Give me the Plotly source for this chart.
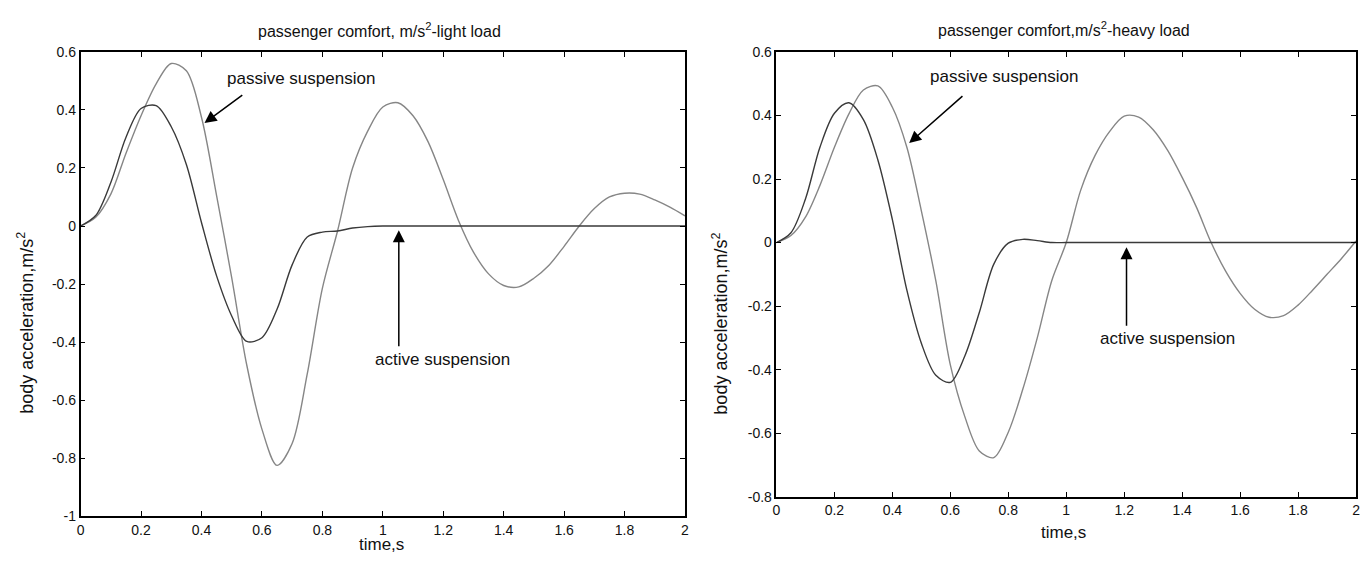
import plotly.graph_objects as go

# ---------------- data ----------------
time_s = [0, 0.05, 0.1, 0.15, 0.2, 0.25, 0.3, 0.35, 0.4, 0.45, 0.5, 0.55, 0.6, 0.65, 0.7, 0.75,
          0.8, 0.85, 0.9, 0.95, 1.0, 1.05, 1.1, 1.15, 1.2, 1.25, 1.3, 1.35, 1.4, 1.45, 1.5,
          1.55, 1.6, 1.65, 1.7, 1.75, 1.8, 1.85, 1.9, 1.95, 2.0]

passive_light = [0, 0.03, 0.11, 0.25, 0.38, 0.49, 0.56, 0.535, 0.375, 0.105, -0.178, -0.48,
                 -0.70, -0.825, -0.75, -0.51, -0.215, -0.018, 0.20, 0.327, 0.41, 0.425, 0.38,
                 0.29, 0.16, 0.02, -0.09, -0.165, -0.205, -0.21, -0.18, -0.135, -0.07, 0.0,
                 0.06, 0.10, 0.113, 0.11, 0.09, 0.065, 0.035]

active_light = [0, 0.036, 0.15, 0.305, 0.405, 0.415, 0.342, 0.212, 0.012, -0.172, -0.31, -0.398,
                -0.385, -0.287, -0.134, -0.038, -0.021, -0.017, -0.007, -0.002, 0,
                0, 0, 0, 0, 0, 0, 0, 0, 0, 0, 0, 0, 0, 0, 0, 0, 0, 0, 0, 0]

passive_heavy = [0, 0.022, 0.08, 0.18, 0.30, 0.405, 0.48, 0.493, 0.426, 0.30, 0.10, -0.121,
                 -0.385, -0.548, -0.656, -0.677, -0.597, -0.462, -0.30, -0.12, 0.0, 0.165,
                 0.275, 0.35, 0.398, 0.395, 0.355, 0.29, 0.205, 0.11, 0.0, -0.09, -0.16, -0.21,
                 -0.235, -0.23, -0.197, -0.15, -0.10, -0.05, 0.005]

active_heavy = [0, 0.031, 0.137, 0.30, 0.407, 0.44, 0.387, 0.26, 0.072, -0.15, -0.317, -0.418,
                -0.44, -0.357, -0.22, -0.068, -0.002, 0.01, 0.006, 0.0, 0,
                0, 0, 0, 0, 0, 0, 0, 0, 0, 0, 0, 0, 0, 0, 0, 0, 0, 0, 0, 0]

x_tick_vals = [0, 0.2, 0.4, 0.6, 0.8, 1.0, 1.2, 1.4, 1.6, 1.8, 2.0]
x_tick_text = ["0", "0.2", "0.4", "0.6", "0.8", "1", "1.2", "1.4", "1.6", "1.8", "2"]
y_left_vals = [0.6, 0.4, 0.2, 0, -0.2, -0.4, -0.6, -0.8, -1.0]
y_left_text = ["0.6", "0.4", "0.2", "0", "-0.2", "-0.4", "-0.6", "-0.8", "-1"]
y_right_vals = [0.6, 0.4, 0.2, 0, -0.2, -0.4, -0.6, -0.8]
y_right_text = ["0.6", "0.4", "0.2", "0", "-0.2", "-0.4", "-0.6", "-0.8"]

# ---------------- figure ----------------
# The page body keeps its default 8px margin, so the figure is 16px smaller than the window.
PAGE_W, PAGE_H, BODY_M = 1372, 570, 8
FW, FH = PAGE_W - 2 * BODY_M, PAGE_H - 2 * BODY_M


def px(x):
    return (x - BODY_M) / FW


def py(y):
    return 1 - (y - BODY_M) / FH


FONT = "Liberation Sans, Arial, sans-serif"
ACTIVE_C = "#3a3a3a"
PASSIVE_C = "#868686"

fig = go.Figure()
line_kw = dict(shape="spline", smoothing=0.9, width=1.4)
fig.add_trace(go.Scatter(x=time_s, y=passive_light, mode="lines", xaxis="x", yaxis="y",
                         line=dict(color=PASSIVE_C, **line_kw), showlegend=False))
fig.add_trace(go.Scatter(x=time_s, y=active_light, mode="lines", xaxis="x", yaxis="y",
                         line=dict(color=ACTIVE_C, **line_kw), showlegend=False))
fig.add_trace(go.Scatter(x=time_s, y=passive_heavy, mode="lines", xaxis="x2", yaxis="y2",
                         line=dict(color=PASSIVE_C, **line_kw), showlegend=False))
fig.add_trace(go.Scatter(x=time_s, y=active_heavy, mode="lines", xaxis="x2", yaxis="y2",
                         line=dict(color=ACTIVE_C, **line_kw), showlegend=False))

axis_common = dict(showline=True, linecolor="black", linewidth=1.5, mirror="allticks",
                   ticks="inside", ticklen=5, tickwidth=1.2, tickcolor="black",
                   showgrid=False, zeroline=False,
                   tickfont=dict(family=FONT, size=14, color="#111"))

fig.update_layout(
    width=FW, height=FH,
    margin=dict(l=0, r=0, t=0, b=0),
    paper_bgcolor="white", plot_bgcolor="white",
    xaxis=dict(domain=[px(77), px(685)], anchor="y", range=[0, 2],
               tickvals=x_tick_vals, ticktext=x_tick_text, **axis_common),
    yaxis=dict(domain=[py(523), py(45)], anchor="x", range=[-1, 0.6],
               tickvals=y_left_vals, ticktext=y_left_text, **axis_common),
    xaxis2=dict(domain=[px(777), px(1360)], anchor="y2", range=[0, 2],
                tickvals=x_tick_vals, ticktext=x_tick_text, **axis_common),
    yaxis2=dict(domain=[py(503), py(45)], anchor="x2", range=[-0.8, 0.6],
                tickvals=y_right_vals, ticktext=y_right_text, **axis_common),
)


def mid(size):
    return dict(xanchor="center", yanchor="middle", showarrow=False,
                font=dict(family=FONT, size=size, color="#111"))


ann = []
# titles
ann.append(dict(text="passenger comfort, m/s<sup>2</sup>-light load", xref="paper", yref="paper",
                x=px(378), y=py(22), **mid(16)))
ann.append(dict(text="passenger comfort,m/s<sup>2</sup>-heavy load", xref="paper", yref="paper",
                x=px(1066), y=py(21), **mid(16)))
# axis titles
ann.append(dict(text="body acceleration,m/s<sup>2</sup>", xref="paper", yref="paper",
                x=px(22), y=py(324), textangle=-90, **mid(18)))
ann.append(dict(text="body acceleration,m/s<sup>2</sup>", xref="paper", yref="paper",
                x=px(721), y=py(325), textangle=-90, **mid(18)))
ann.append(dict(text="time,s", xref="paper", yref="paper",
                x=px(380), y=py(552), **mid(17)))
ann.append(dict(text="time,s", xref="paper", yref="paper",
                x=px(1066), y=py(540), **mid(17)))
# labels inside plots
ann.append(dict(text="passive suspension", xref="x", yref="y", x=0.73, y=0.51, **mid(17)))
ann.append(dict(text="active suspension", xref="x", yref="y", x=1.197, y=-0.459, **mid(17)))
ann.append(dict(text="passive suspension", xref="x2", yref="y2", x=0.785, y=0.522, **mid(17)))
ann.append(dict(text="active suspension", xref="x2", yref="y2", x=1.348, y=-0.303, **mid(17)))
# arrows
arrow_kw = dict(text="", showarrow=True, arrowhead=2, arrowsize=1.6, arrowwidth=1.5,
                arrowcolor="black")
ann.append(dict(xref="x", yref="y", axref="x", ayref="y", x=0.41, y=0.355, ax=0.54, ay=0.455,
                **arrow_kw))
ann.append(dict(xref="x", yref="y", axref="x", ayref="y", x=1.053, y=-0.015, ax=1.053, ay=-0.42,
                **arrow_kw))
ann.append(dict(xref="x2", yref="y2", axref="x2", ayref="y2", x=0.458, y=0.313, ax=0.647, ay=0.465,
                **arrow_kw))
ann.append(dict(xref="x2", yref="y2", axref="x2", ayref="y2", x=1.208, y=-0.015, ax=1.208, ay=-0.267,
                **arrow_kw))
fig.update_layout(annotations=ann)

fig.write_html("out.html", config={"displayModeBar": False})
